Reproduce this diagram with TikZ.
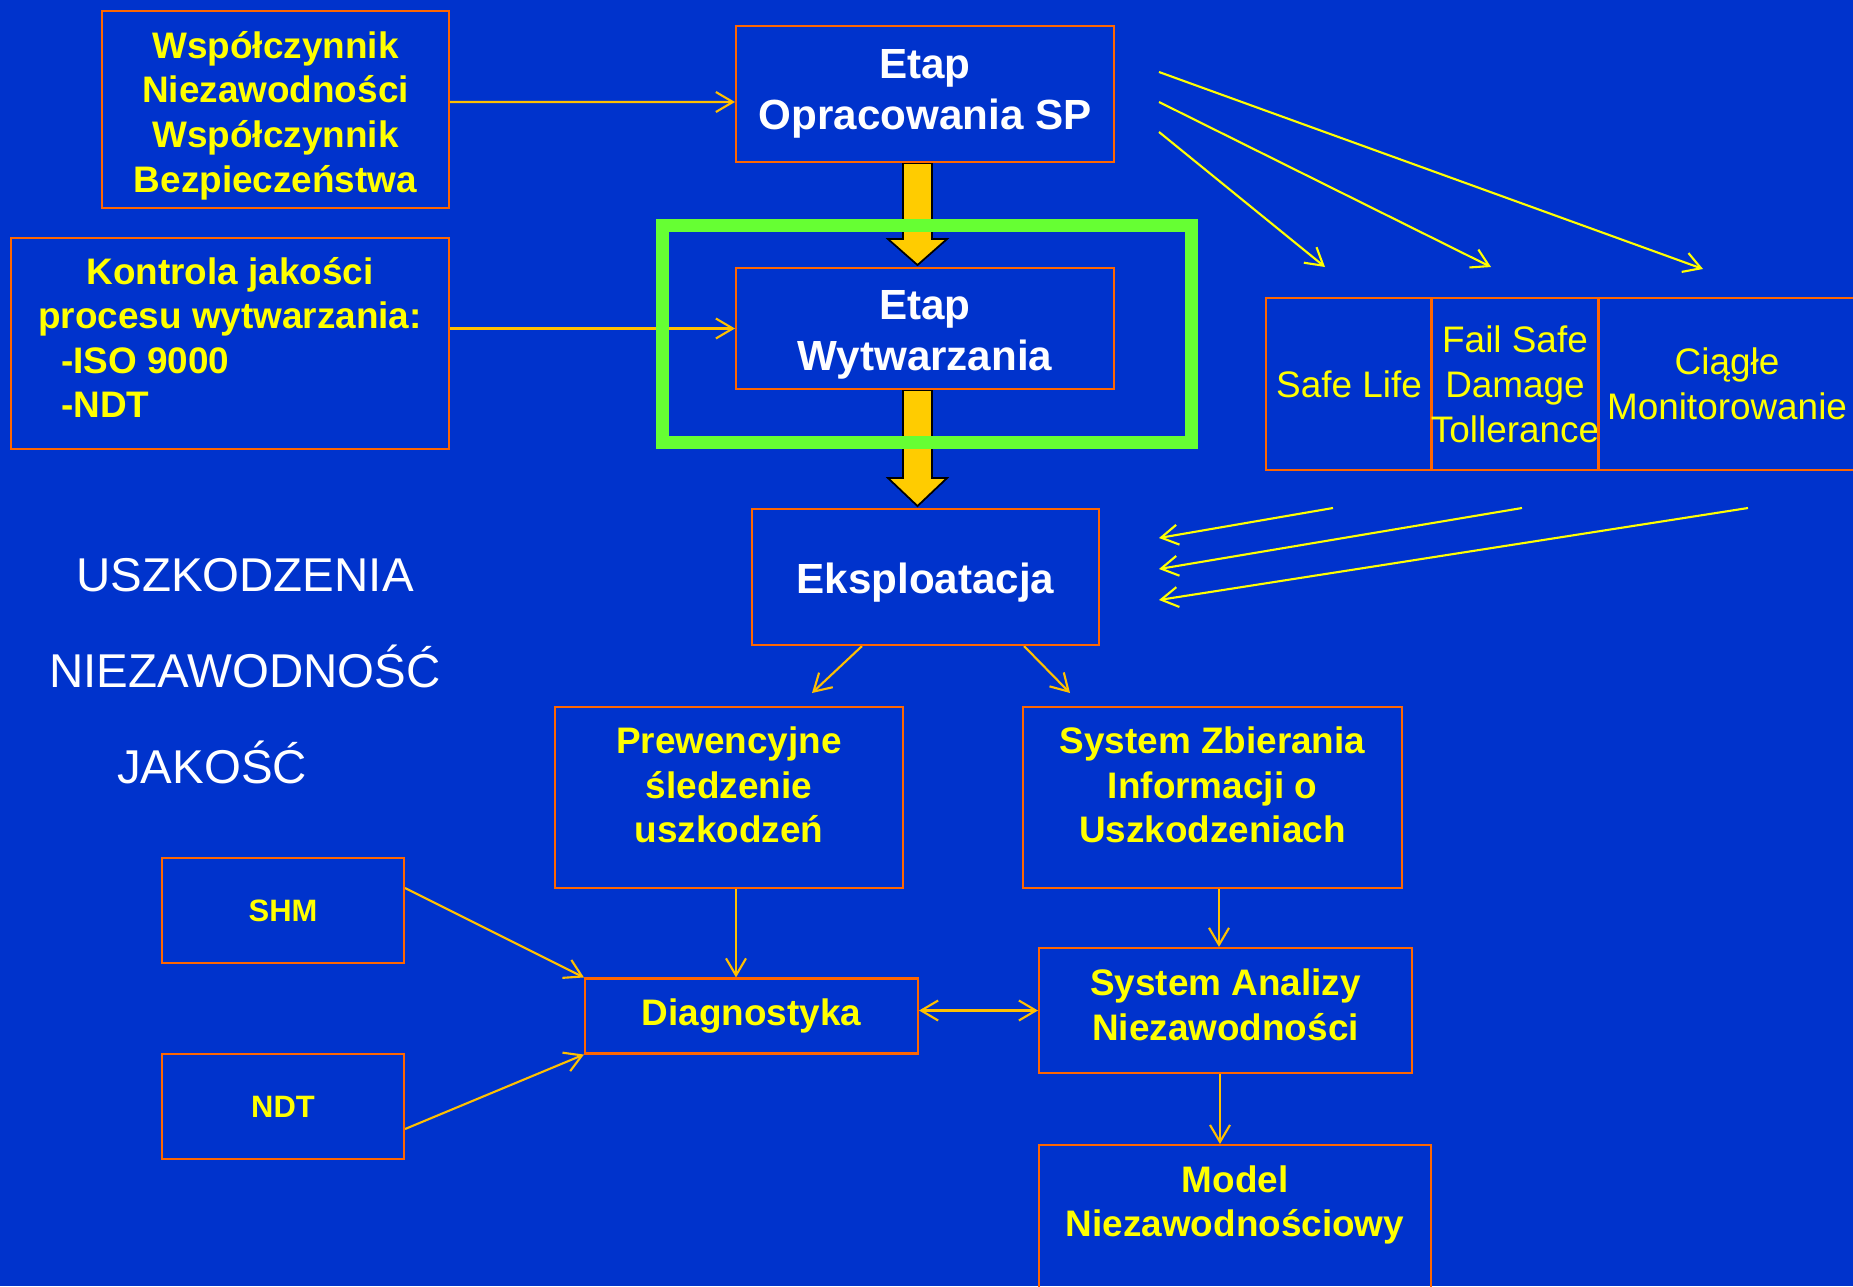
\documentclass[tikz,border=0pt]{standalone}
\usepackage{fontspec}
\setmainfont{Liberation Sans}
\usepackage{calc}
\usepackage{tikz}
\usetikzlibrary{arrows.meta}
\pgfdeclarelayer{edgelayer}
\pgfdeclarelayer{nodelayer}
\pgfsetlayers{edgelayer,nodelayer,main}
\definecolor{slideblue}{HTML}{0033CC}
\definecolor{boxorange}{HTML}{FF6600}
\definecolor{linegold}{HTML}{FFC000}
\definecolor{lineyellow}{HTML}{FFFF00}
\definecolor{txtyellow}{HTML}{FFFF00}
\definecolor{arrowgold}{HTML}{FFCC00}
\definecolor{framegreen}{HTML}{66FF33}
\tikzstyle{box}=[draw=boxorange, line width=0.6pt, inner sep=0pt, align=center]
\tikzstyle{ytxt}=[text=txtyellow, font=\fontsize{10.5}{12.7}\selectfont\bfseries, align=center]
\tikzstyle{wtxt}=[text=white, font=\fontsize{12}{14.5}\selectfont\bfseries, align=center]
\tikzstyle{ctxt}=[text=txtyellow, font=\fontsize{10.5}{12.8}\selectfont]
\tikzstyle{stxt}=[text=txtyellow, font=\fontsize{8.8}{10.5}\selectfont\bfseries]
\tikzstyle{bigtxt}=[text=white, font=\fontsize{13.5}{16}\selectfont, anchor=base, inner sep=0pt]
\tikzstyle{conn}=[draw=linegold, line width=0.6pt]
\tikzstyle{connb}=[draw=lineyellow, line width=0.6pt]
\tikzstyle{fatarrow}=[fill=arrowgold, draw=black, line width=0.5pt, line join=miter]
\tikzstyle{greenframe}=[draw=framegreen, line width=3.7pt]

\begin{document}
\begin{tikzpicture}[>={Straight Barb[length=1.7mm,width=2mm]}]
				\useasboundingbox (0,0) rectangle (18.53,12.86);
				\begin{pgfonlayer}{nodelayer}
					\node [style=box, minimum width=3.47cm, minimum height=1.97cm] (wsp) at (2.755, 11.765) {};
					\node [style=ytxt] (wsptext) at (2.755, 11.705) {Współczynnik\\Niezawodności\\Współczynnik\\Bezpieczeństwa};
					\node [style=box, style=wtxt, minimum width=3.78cm, minimum height=1.36cm] (etap1) at (9.25, 11.92) {Etap\\Opracowania SP};
					\node [style=box, minimum width=4.38cm, minimum height=2.11cm] (kontrola) at (2.30, 9.425) {};
					\node [style=ytxt, align=left] (kontrolatext) at (2.30, 9.485) {\makebox[\widthof{procesu wytwarzania:}]{Kontrola jakości}\\procesu wytwarzania:\\\hspace*{0.23cm}-ISO 9000\\\hspace*{0.23cm}-NDT};
					\node [style=box, minimum width=3.78cm, minimum height=1.21cm] (etap2) at (9.25, 9.575) {};
					\node [style=wtxt] (etap2text) at (9.25, 9.51) {Etap\\Wytwarzania};
					\node [style=box, minimum width=3.47cm, minimum height=1.36cm] (eksp) at (9.255, 7.09) {};
					\node [style=wtxt] (eksptext) at (9.255, 7.03) {Eksploatacja};
					\node [style=box, style=ctxt, minimum width=1.66cm, minimum height=1.72cm] (safelife) at (13.49, 9.02) {Safe Life};
					\node [style=box, style=ctxt, minimum width=1.66cm, minimum height=1.72cm] (failsafe) at (15.15, 9.02) {Fail Safe\\Damage\\Tollerance};
					\node [style=box, style=ctxt, minimum width=2.58cm, minimum height=1.72cm] (ciagle) at (17.27, 9.02) {Ciągłe\\Monitorowanie};
					\node [style=bigtxt] (uszk) at (2.45, 6.95) {USZKODZENIA};
					\node [style=bigtxt] (niez) at (2.45, 5.99) {NIEZAWODNOŚĆ};
					\node [style=bigtxt] (jakosc) at (2.12, 5.03) {JAKOŚĆ};
					\node [style=box, minimum width=3.48cm, minimum height=1.81cm] (prew) at (7.29, 4.885) {};
					\node [style=ytxt] (prewtext) at (7.29, 5.01) {Prewencyjne\\śledzenie\\uszkodzeń};
					\node [style=box, minimum width=3.79cm, minimum height=1.81cm] (szi) at (12.125, 4.885) {};
					\node [style=ytxt] (szitext) at (12.125, 5.01) {System Zbierania\\Informacji o\\Uszkodzeniach};
					\node [style=box, style=ytxt, minimum width=3.33cm, minimum height=0.75cm] (diag) at (7.515, 2.70) {Diagnostyka};
					\node [style=box, minimum width=3.73cm, minimum height=1.25cm] (sa) at (12.255, 2.755) {};
					\node [style=ytxt] (satext) at (12.255, 2.81) {System Analizy\\Niezawodności};
					\node [style=box, minimum width=3.92cm, minimum height=1.6cm, anchor=north] (model) at (12.35, 1.42) {};
					\node [style=ytxt] (modeltext) at (12.35, 0.81) {Model\\Niezawodnościowy};
					\node [style=box, style=stxt, minimum width=2.42cm, minimum height=1.05cm] (shm) at (2.83, 3.755) {SHM};
					\node [style=box, style=stxt, minimum width=2.42cm, minimum height=1.05cm] (ndt) at (2.83, 1.795) {NDT};
				\end{pgfonlayer}
				\begin{pgfonlayer}{edgelayer}
					\fill [slideblue] (0,0) rectangle (18.53,12.86);
					\coordinate (s1) at (11.59, 12.14);
					\coordinate (s2) at (11.59, 11.84);
					\coordinate (s3) at (11.59, 11.54);
					\coordinate (e1) at (17.03, 10.17);
					\coordinate (e2) at (14.91, 10.19);
					\coordinate (e3) at (13.25, 10.19);
					\coordinate (b1) at (13.33, 7.78);
					\coordinate (b2) at (15.22, 7.78);
					\coordinate (b3) at (17.48, 7.78);
					\coordinate (f1) at (11.59, 7.48);
					\coordinate (f2) at (11.59, 7.17);
					\coordinate (f3) at (11.59, 6.86);
					\coordinate (p1) at (8.12, 5.93);
					\coordinate (p2) at (10.70, 5.93);
					\draw [style=fatarrow] ([xshift=-0.22cm]etap1.south) -- ++(0,-0.76) -- ++(-0.15,0) -- ++(0.295,-0.26) -- ++(0.295,0.26) -- ++(-0.15,0) -- ++(0,0.76) -- cycle;
					\draw [style=fatarrow] ([xshift=-0.22cm]etap2.south) -- ++(0,-0.88) -- ++(-0.15,0) -- ++(0.295,-0.28) -- ++(0.295,0.28) -- ++(-0.15,0) -- ++(0,0.88) -- cycle;
					\draw [style=conn, ->] ([yshift=0.075cm]wsp.east) to ([yshift=-0.08cm]etap1.west);
					\draw [style=conn, ->] (kontrola.east |- etap2.west) to (etap2.west);
					\draw [style=connb, ->] (s1) to (e1);
					\draw [style=connb, ->] (s2) to (e2);
					\draw [style=connb, ->] (s3) to (e3);
					\draw [style=connb, ->] (b1) to (f1);
					\draw [style=connb, ->] (b2) to (f2);
					\draw [style=connb, ->] (b3) to (f3);
					\draw [style=conn, ->] ([xshift=-0.635cm]eksp.south) to (p1);
					\draw [style=conn, ->] ([xshift=0.985cm]eksp.south) to (p2);
					\draw [style=conn, ->] ([xshift=0.07cm]prew.south) to ([xshift=0.07cm]prew.south |- diag.north);
					\draw [style=conn, ->] ([xshift=0.065cm]szi.south) to ([xshift=0.065cm]szi.south |- sa.north);
					\draw [style=conn, <->] (diag.east |- sa.west) to (sa.west);
					\draw [style=conn, ->] ([xshift=-0.055cm]sa.south) to ([xshift=-0.055cm]sa.south |- model.north);
					\draw [style=conn, ->] ([yshift=0.225cm]shm.east) to (diag.north west);
					\draw [style=conn, ->] ([yshift=-0.225cm]ndt.east) to (diag.south west);
				\end{pgfonlayer}
				\draw [style=greenframe] (6.62, 10.605) rectangle (11.91, 8.435);
			\end{tikzpicture}
\end{document}
